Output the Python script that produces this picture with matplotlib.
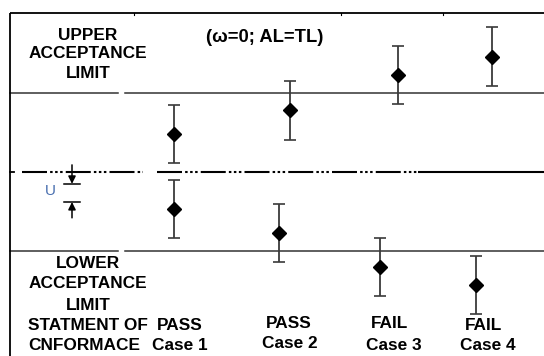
import numpy as np
import matplotlib.pyplot as plt

# Measured results relative to the nominal value; acceptance limits at +/-1 (AL = TL)
cases = ["Case 1", "Case 2", "Case 3", "Case 4"]
verdicts = ["PASS", "PASS", "FAIL", "FAIL"]
upper_results = [0.48, 0.78, 1.23, 1.46]
lower_results = [-0.47, -0.77, -1.20, -1.43]
uncertainty = 0.37
upper_limit = 1.0
lower_limit = -1.0

# horizontal placement of the measurement pairs (pixels)
x_upper = [174, 290, 398, 492]
x_lower = [174, 279, 380, 476]

W, H = 544, 356
plt.rcParams["font.family"] = ["Liberation Sans", "DejaVu Sans"]
fig = plt.figure(figsize=(W / 100, H / 100), dpi=100)

# data axes: x in pixels, y in units of tolerance (centre line at pixel row 172)
ax = fig.add_axes([0, 0, 1, 1])
ax.set_xlim(0, W)
ax.set_ylim(-(H - 172) / 79, 172 / 79)
ax.axis("off")

# overlay for frame and labels in pixel coordinates
ov = fig.add_axes([0, 0, 1, 1], facecolor="none")
ov.set_xlim(0, W)
ov.set_ylim(H, 0)
ov.axis("off")

# frame: top and left borders
ov.plot([10, W], [13, 13], color="black", lw=1.3, solid_capstyle="butt")
ov.plot([10, 10], [13, H], color="black", lw=1.3, solid_capstyle="butt")
for tx in [134, 341, 443]:
    ov.plot([tx, tx], [13, 15], color="black", lw=0.8)

# acceptance limit lines, with a small break
lim_kw = dict(color="#333333", lw=1.1)
for lim in [upper_limit, lower_limit]:
    ax.plot([10, 118], [lim, lim], **lim_kw)
    ax.plot([125, W], [lim, lim], **lim_kw)

# nominal centre line, dash-dot-dot
ddd = (0, (12, 1.5, 1.2, 1.2, 1.2, 1.2, 1.2, 1.5))
ax.plot([10, 14], [0, 0], color="black", lw=1.3)
ax.plot([22, 143], [0, 0], color="black", lw=1.5, linestyle=ddd)
ax.plot([157, 418], [0, 0], color="black", lw=1.5, linestyle=ddd)
ax.plot([418, W], [0, 0], color="black", lw=1.5, solid_capstyle="butt")

# results with expanded uncertainty
eb_kw = dict(yerr=uncertainty, fmt="D", color="black", ms=7,
             ecolor="#3a3a3a", elinewidth=1.3, capsize=4, capthick=1.2)
ax.errorbar(x_upper, upper_results, **eb_kw)
ax.errorbar(x_lower, lower_results, **eb_kw)

# U indicator
ux = 72
u_top, u_bot = -0.15, -0.38
ax.plot([ux - 8, ux + 8], [u_top, u_top], color="black", lw=1.1)
ax.plot([ux - 8, ux + 8], [u_bot, u_bot], color="black", lw=1.1)
ax.annotate("", xy=(ux, u_top), xytext=(ux, 0.09),
            arrowprops=dict(arrowstyle="-|>", color="black", lw=1.1,
                            mutation_scale=11, shrinkA=0, shrinkB=0))
ax.annotate("", xy=(ux, u_bot), xytext=(ux, -0.58),
            arrowprops=dict(arrowstyle="-|>", color="black", lw=1.1,
                            mutation_scale=11, shrinkA=0, shrinkB=0))
ov.text(50, 191, "U", color="#4a70b0", fontsize=11, ha="center", va="center")

# labels
lab = dict(fontsize=12.4, fontweight="bold", color="black", va="center")
ov.text(265, 37, "(\u03c9=0; AL=TL)", ha="center",
        **{**lab, "fontsize": 13.2})
for txt, y in [("UPPER", 35), ("ACCEPTANCE", 54), ("LIMIT", 74),
               ("LOWER", 264), ("ACCEPTANCE", 284), ("LIMIT", 305)]:
    ov.text(88, y, txt, ha="center", **lab)
ov.text(28, 326, "STATMENT OF", ha="left", **lab)
ov.text(28, 346, "CNFORMACE", ha="left", **lab)

verdict_pos = [(180, 326), (289, 324), (389, 323), (483, 325)]
case_pos = [(180, 346), (290, 344), (394, 345), (488, 346)]
for v, c, (vx, vy), (cx, cy) in zip(verdicts, cases, verdict_pos, case_pos):
    ov.text(vx, vy, v, ha="center", **lab)
    ov.text(cx, cy, c, ha="center", **lab)

fig.savefig("out.png", dpi=100)
